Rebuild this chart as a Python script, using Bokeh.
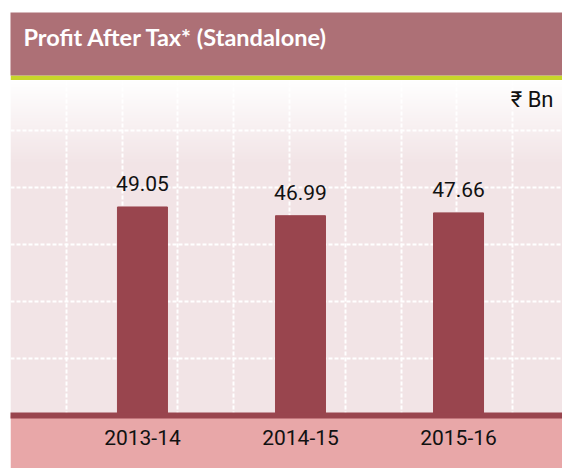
import numpy as np
from bokeh.plotting import figure
from bokeh.models import Range1d, FixedTicker, Label, ColumnDataSource, Grid
from bokeh.layouts import column
from bokeh.embed import file_html
from bokeh.resources import INLINE
from bokeh.core.properties import value

# ---- data ----
title_text = "Profit After Tax* (Standalone)"
unit_text = "₹ Bn"
years = ["2013-14", "2014-15", "2015-16"]
profit = [49.05, 46.99, 47.66]

# ---- styles ----
TITLE_BG = "#AD7076"
GREEN = "#C8D62A"
PINK_BG = (242, 228, 230)
BAR = "#99454E"
BAND = "#E8A7A8"
TXT = "#111111"
FONT_NUM = "Roboto"
FONT_TITLE = "Lato"

W = 552
TITLE_H = 63
GREEN_H = 5
FRAME_H = 335
BOTTOM_H = 53

# ---- title band ----
t = figure(width=W, height=TITLE_H + GREEN_H, x_range=Range1d(0, W), y_range=Range1d(0, TITLE_H),
           toolbar_location=None, output_backend="svg", x_axis_location=None, y_axis_location=None,
           min_border=0, min_border_bottom=GREEN_H, background_fill_color=TITLE_BG,
           border_fill_color=GREEN, outline_line_color=None)
for g in t.grid:
    g.visible = False
t.add_layout(Label(x=13, y=39, text=title_text, text_color="white", text_font=FONT_TITLE,
                   text_font_size="23.5px", text_font_style="bold", text_baseline="alphabetic"))

# ---- main chart ----
x_start, x_end = -0.835, 2.658
y_end = 78.8
p = figure(width=W, height=FRAME_H + BOTTOM_H, x_range=Range1d(x_start, x_end), y_range=Range1d(0, y_end),
           toolbar_location=None, output_backend="svg", y_axis_location=None,
           min_border=0, min_border_bottom=BOTTOM_H, border_fill_color=BAND, outline_line_color=None)

# vertical gradient background (white at top to light pink)
rows = FRAME_H
from_top = np.arange(rows)[::-1].astype(float)
tt = np.clip(from_top / 85.0, 0, 1)
img = np.empty((rows, 1), dtype=np.uint32)
view = img.view(dtype=np.uint8).reshape((rows, 1, 4))
view[:, 0, 0] = (255 + (PINK_BG[0] - 255) * tt).astype(np.uint8)
view[:, 0, 1] = (255 + (PINK_BG[1] - 255) * tt).astype(np.uint8)
view[:, 0, 2] = (255 + (PINK_BG[2] - 255) * tt).astype(np.uint8)
view[:, 0, 3] = 255
p.image_rgba(image=[img], x=x_start, y=0, dw=x_end - x_start, dh=y_end, level="image")

# dashed white grid
for g in p.grid:
    g.visible = False
px_per_x = W / (x_end - x_start)
px_per_y = FRAME_H / y_end
vticks = [x_start + k * 55.8 / px_per_x for k in range(1, 10)]
hticks = [k * 57.0 / px_per_y for k in range(1, 6)]
p.add_layout(Grid(dimension=0, ticker=FixedTicker(ticks=vticks), grid_line_color="white",
                  grid_line_width=2, grid_line_dash="4 2", grid_line_alpha=1.0))
p.add_layout(Grid(dimension=1, ticker=FixedTicker(ticks=hticks), grid_line_color="white",
                  grid_line_width=2, grid_line_dash="4 2", grid_line_alpha=1.0))

src = ColumnDataSource(dict(x=list(range(len(years))), value=profit,
                            label=[f"{v:.2f}" for v in profit]))
p.vbar(x="x", top="value", bottom=0, width=50 / px_per_x, color=BAR, source=src)
p.text(x="x", y="value", text="label", source=src, text_align="center", text_baseline="alphabetic",
       y_offset=-23, text_font=value(FONT_NUM), text_font_size="21px", text_color=TXT)

p.add_layout(Label(x=x_end, y=y_end, x_offset=-9, y_offset=-19, text=unit_text, text_align="right",
                   text_baseline="alphabetic", text_font=FONT_NUM, text_font_size="22px", text_color=TXT))

ax = p.xaxis[0]
ax.ticker = FixedTicker(ticks=list(range(len(years))))
ax.major_label_overrides = {i: y for i, y in enumerate(years)}
ax.axis_line_width = 6
ax.axis_line_color = BAR
ax.major_tick_line_color = None
ax.minor_tick_line_color = None
ax.major_label_text_font = FONT_NUM
ax.major_label_text_font_size = "21px"
ax.major_label_text_color = TXT
ax.major_label_standoff = 8

layout = column(t, p, margin=(12, 0, 0, 10), spacing=0)
open("out.html", "w").write(file_html(layout, INLINE))
